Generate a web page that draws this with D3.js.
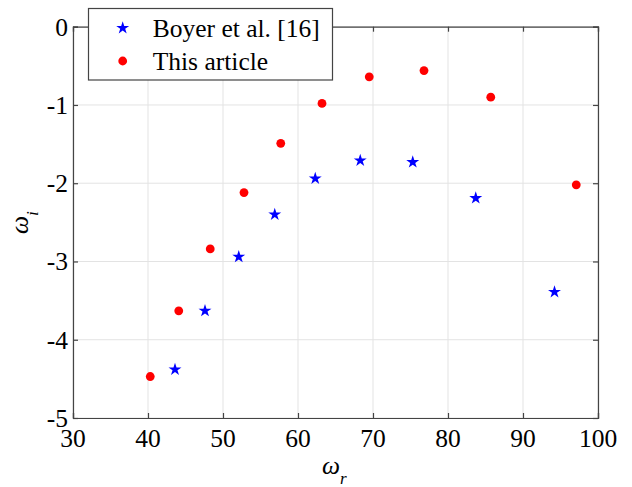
<!DOCTYPE html>
<html><head><meta charset="utf-8">
<script src="https://cdn.jsdelivr.net/npm/d3@7"></script>
<style>html,body{margin:0;padding:0;background:#fff;} text{font-family:"Liberation Serif","Times New Roman","DejaVu Serif",serif;}</style>
</head><body>
<svg id="chart" width="632" height="487"></svg>
<script>
const boyerX = [43.6, 47.6, 52.1, 56.9, 62.3, 68.3, 75.3, 83.7, 94.2];
const boyerY = [-4.38, -3.63, -2.94, -2.40, -1.94, -1.71, -1.73, -2.19, -3.39];
const articleX = [40.3, 44.1, 48.3, 52.8, 57.7, 63.2, 69.5, 76.8, 85.7, 97.1];
const articleY = [-4.47, -3.63, -2.84, -2.12, -1.49, -0.98, -0.64, -0.56, -0.90, -2.02];
const xTicks = [30, 40, 50, 60, 70, 80, 90, 100];
const yTicks = [0, -1, -2, -3, -4, -5];
const seriesNames = ["Boyer et al. [16]", "This article"];

const svg = d3.select("#chart");
const L = 73, R = 598, T = 26.7, B = 418;
const x = d3.scaleLinear().domain([30, 100]).range([L, R]);
const y = d3.scaleLinear().domain([-5, 0]).range([B, T]);
const axisColor = "#444";

// grid
const g = svg.append("g");
g.selectAll(".vg").data(xTicks).enter().append("line")
  .attr("x1", d => x(d)).attr("x2", d => x(d)).attr("y1", T).attr("y2", B)
  .attr("stroke", "#e3e3e3").attr("stroke-width", 1);
g.selectAll(".hg").data(yTicks).enter().append("line")
  .attr("x1", L).attr("x2", R).attr("y1", d => y(d)).attr("y2", d => y(d))
  .attr("stroke", "#e3e3e3").attr("stroke-width", 1);

// axes with inward ticks
const xAxisB = d3.axisBottom(x).tickValues(xTicks).tickSize(-5).tickFormat("");
const xAxisT = d3.axisTop(x).tickValues(xTicks).tickSize(-5).tickFormat("");
const yAxisL = d3.axisLeft(y).tickValues(yTicks).tickSize(-5).tickFormat("");
const yAxisR = d3.axisRight(y).tickValues(yTicks).tickSize(-5).tickFormat("");
[[xAxisB, `translate(0,${B})`], [xAxisT, `translate(0,${T})`], [yAxisL, `translate(${L},0)`], [yAxisR, `translate(${R},0)`]]
  .forEach(([ax, tr]) => {
    const a = svg.append("g").attr("transform", tr).call(ax);
    a.selectAll("path").attr("stroke", axisColor).attr("stroke-width", 1.2);
    a.selectAll("line").attr("stroke", axisColor).attr("stroke-width", 1.2);
  });

// tick labels
svg.selectAll(".xl").data(xTicks).enter().append("text")
  .attr("x", d => x(d)).attr("y", B + 29).attr("text-anchor", "middle")
  .attr("font-size", 25.5).attr("fill", "#000")
  .text(d => d);
svg.selectAll(".yl").data(yTicks).enter().append("text")
  .attr("x", L - 5).attr("y", d => y(d) + 9).attr("text-anchor", "end")
  .attr("font-size", 25.5).attr("fill", "#000")
  .text(d => d);

// axis titles
const xt = svg.append("text").attr("x", 322).attr("y", 474)
  .attr("font-size", 25.5).attr("font-style", "italic");
xt.append("tspan").text("ω");
xt.append("tspan").attr("font-size", 17).attr("dy", 10).text("r");

const yt = svg.append("text").attr("transform", "translate(28,234) rotate(-90)")
  .attr("font-size", 25.5).attr("font-style", "italic");
yt.append("tspan").text("ω");
yt.append("tspan").attr("font-size", 17).attr("dy", 10).text("i");

// data
const star = d3.symbol().type(d3.symbolStar).size(52);
svg.selectAll(".bs").data(boyerX.map((v, i) => [v, boyerY[i]])).enter().append("path")
  .attr("d", star).attr("transform", d => `translate(${x(d[0])},${y(d[1])})`)
  .attr("fill", "#0000ff");
svg.selectAll(".ac").data(articleX.map((v, i) => [v, articleY[i]])).enter().append("circle")
  .attr("cx", d => x(d[0])).attr("cy", d => y(d[1])).attr("r", 4.4)
  .attr("fill", "#ff0000");

// legend
const lg = svg.append("g");
lg.append("rect").attr("x", 88.5).attr("y", 8.5).attr("width", 244).attr("height", 71.5)
  .attr("fill", "#fff").attr("stroke", axisColor).attr("stroke-width", 1.2);
lg.append("path").attr("d", star).attr("transform", "translate(122.7,28)").attr("fill", "#0000ff");
lg.append("circle").attr("cx", 122.7).attr("cy", 61).attr("r", 4.4).attr("fill", "#ff0000");
lg.selectAll(".lt").data(seriesNames).enter().append("text")
  .attr("x", 152.7).attr("y", (d, i) => 37 + i * 33)
  .attr("font-size", 25.5).attr("fill", "#000")
  .text(d => d);
</script>
</body></html>
